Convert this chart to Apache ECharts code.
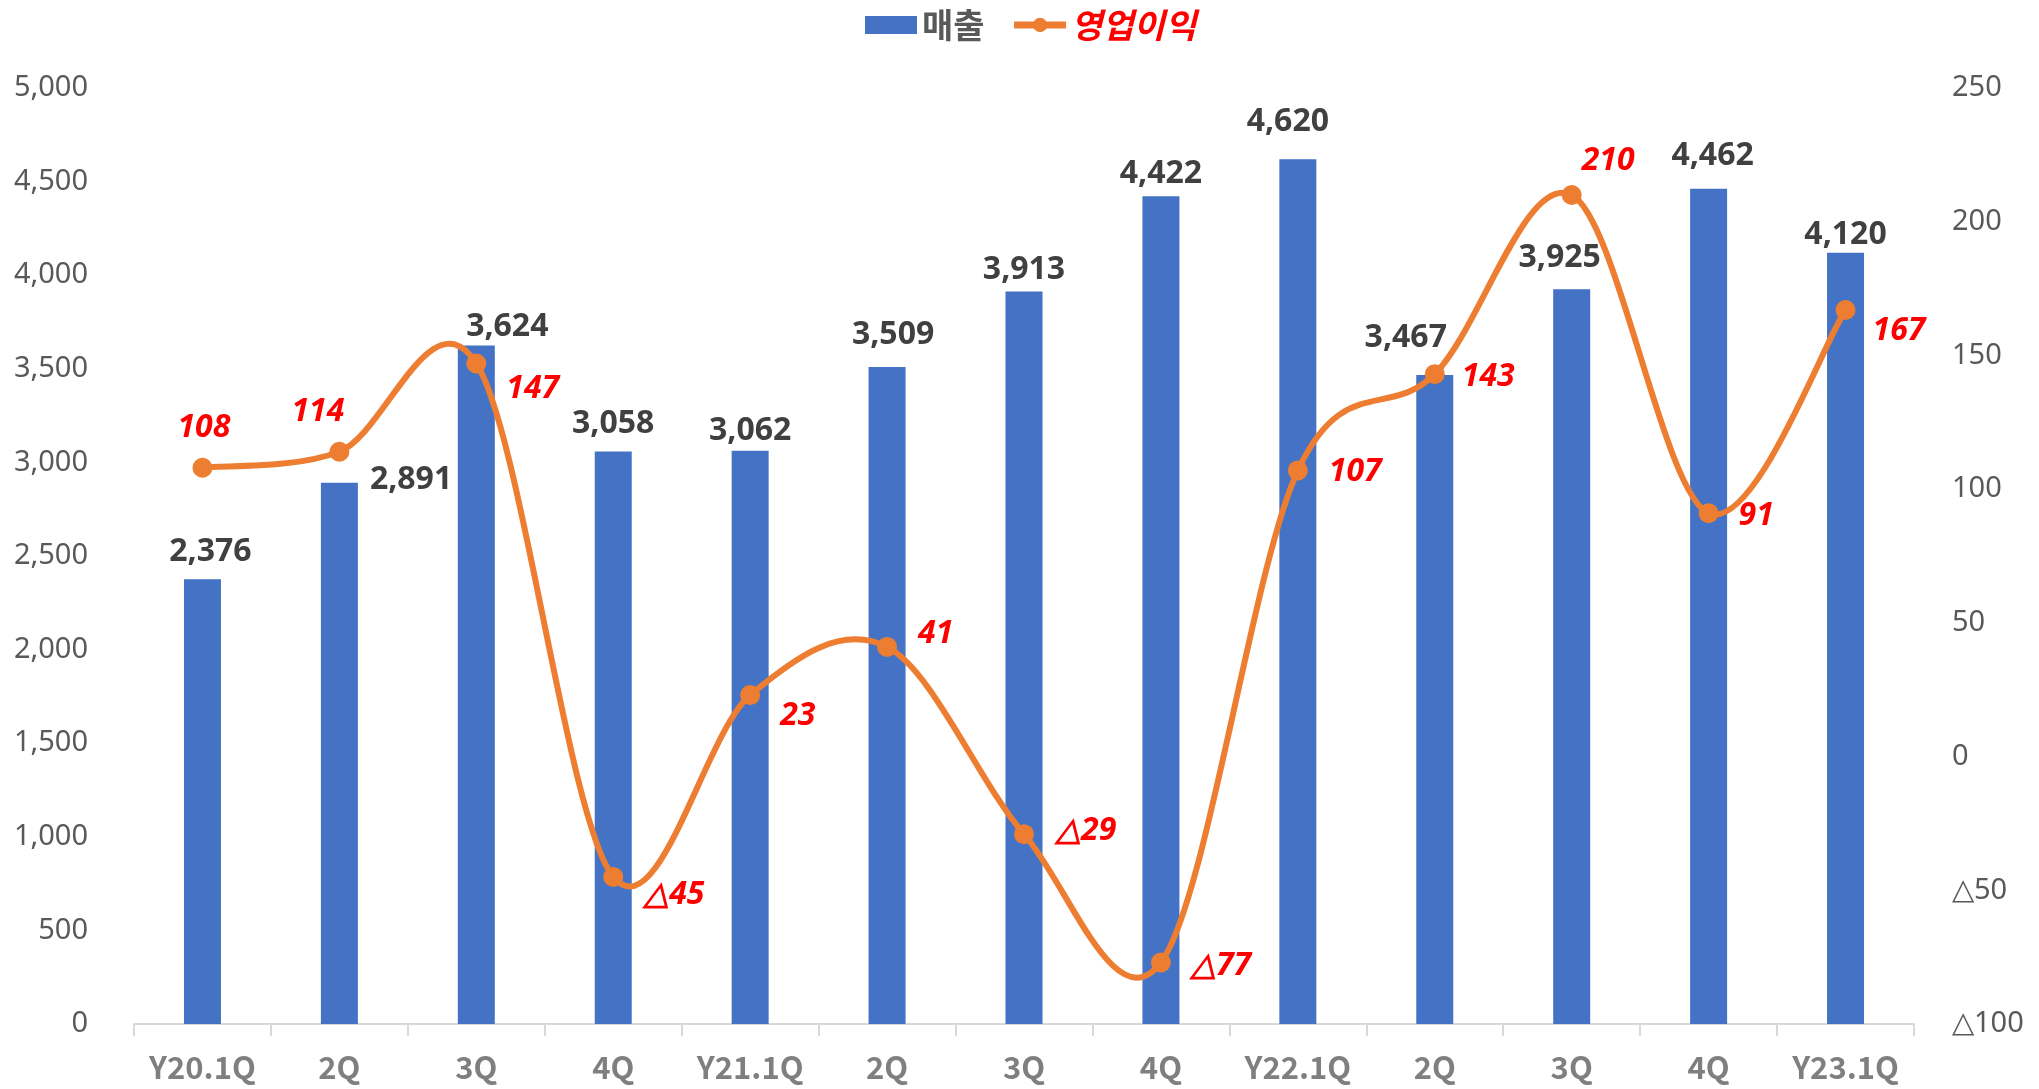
<!DOCTYPE html>
<html>
<head>
<meta charset="utf-8">
<script src="https://cdn.jsdelivr.net/npm/echarts@6/dist/echarts.min.js"></script>
<style>
html,body{margin:0;padding:0;background:#fff;}
#chart{width:2039px;height:1089px;}
</style>
</head>
<body>
<div id="chart"></div>
<script>
const categories = ['Y20.1Q','2Q','3Q','4Q','Y21.1Q','2Q','3Q','4Q','Y22.1Q','2Q','3Q','4Q','Y23.1Q'];
const sales = [2376, 2891, 3624, 3058, 3062, 3509, 3913, 4422, 4620, 3467, 3925, 4462, 4120];
const operatingProfit = [108, 114, 147, -45, 23, 41, -29, -77, 107, 143, 210, 91, 167];
const leftTicks = {min: 0, max: 5000, interval: 500};
const rightTicks = {min: -100, max: 250, interval: 50};

// label placement (pixels): [dx, center distance above bar top]
const barLabelShift = [[8,27],[0,0],[31,19],[0,28],[0,20],[6,32],[0,22],[0,22],[-10,37],[-29,37],[-12,31],[4,33],[0,18]];
const barLabelRight = [false,true,false,false,false,false,false,false,false,false,false,false,false];
// line labels: [left edge offset from point, vertical center offset]
const lineLabelShift = [[-25,-40],[-48,-40],[30,25],[31,18],[30,21],[31,-13],[32,-3],[30,3],[31,1],[27,3],[10,-34],[30,3],[27,21]];

const fmtNum = v => v.toLocaleString('en-US');
const fmtDelta = v => v < 0 ? '△' + Math.abs(v) : String(v);

const barData = sales.map((v, i) => {
  const s = barLabelShift[i];
  const lbl = barLabelRight[i]
    ? {position: ['100%', 0], align: 'left', verticalAlign: 'middle', offset: [12, -3], distance: 0}
    : {position: 'top', distance: 0, offset: [s[0], 16 - s[1]]};
  return {value: v, label: lbl};
});
const lineData = operatingProfit.map((v, i) => {
  const s = lineLabelShift[i];
  return {value: v, label: {position: 'right', distance: 0, offset: [s[0] - 10, s[1]]}};
});
const curveData = operatingProfit.map((v, i) => [i, v]);
const N = operatingProfit.length;

// Excel-style smoothed line: uniform Catmull-Rom segments, coordinates from the chart's own scales
function renderCurve(params, api) {
  const i = params.dataIndex;
  if (i >= N - 1) return null;
  const c = k => { const j = Math.max(0, Math.min(N - 1, k)); return api.coord([j, operatingProfit[j]]); };
  const p0 = c(i - 1), p1 = c(i), p2 = c(i + 1), p3 = c(i + 2);
  return {
    type: 'bezierCurve',
    silent: true,
    shape: {
      x1: p1[0], y1: p1[1],
      cpx1: p1[0] + (p2[0] - p0[0]) / 6, cpy1: p1[1] + (p2[1] - p0[1]) / 6,
      cpx2: p2[0] - (p3[0] - p1[0]) / 6, cpy2: p2[1] - (p3[1] - p1[1]) / 6,
      x2: p2[0], y2: p2[1]
    },
    style: {stroke: '#ED7D31', lineWidth: 6, fill: 'none', lineCap: 'round'}
  };
}

const chart = echarts.init(document.getElementById('chart'), null, {renderer: 'canvas'});
chart.setOption({
  animation: false,
  backgroundColor: '#ffffff',
  legend: {
    top: 3,
    left: 860,
    itemWidth: 52,
    itemHeight: 18,
    itemGap: 26,
    data: [
      {name: '매출', icon: 'rect', textStyle: {color: '#595959', fontWeight: 'bold', fontStyle: 'normal'}},
      {name: '영업이익', textStyle: {color: '#FF0000', fontWeight: 'bold', fontStyle: 'italic'},
       lineStyle: {color: '#ED7D31', width: 7, opacity: 1}, itemStyle: {color: '#ED7D31', opacity: 1}}
    ],
    textStyle: {fontFamily: 'Noto Sans CJK KR', fontSize: 34}
  },
  grid: {left: 134, right: 125, top: 88, bottom: 65, containLabel: false},
  xAxis: {
    type: 'category',
    data: categories,
    boundaryGap: true,
    axisLine: {show: true, lineStyle: {color: '#D9D9D9', width: 2}},
    axisTick: {show: true, length: 12, lineStyle: {color: '#D9D9D9', width: 2}},
    axisLabel: {color: '#7F7F7F', fontFamily: 'Noto Sans CJK KR', fontWeight: 'bold', fontSize: 31, margin: 28, interval: 0},
    splitLine: {show: false}
  },
  yAxis: [
    {
      type: 'value',
      min: leftTicks.min, max: leftTicks.max, interval: leftTicks.interval,
      axisLine: {show: false}, axisTick: {show: false}, splitLine: {show: false},
      axisLabel: {color: '#595959', fontFamily: 'Noto Sans', fontSize: 29, margin: 46, formatter: v => fmtNum(v)}
    },
    {
      type: 'value',
      min: rightTicks.min, max: rightTicks.max, interval: rightTicks.interval,
      axisLine: {show: false}, axisTick: {show: false}, splitLine: {show: false},
      axisLabel: {color: '#595959', fontFamily: 'Noto Sans', fontSize: 29, margin: 38, formatter: v => fmtDelta(v)}
    }
  ],
  series: [
    {
      name: '매출',
      type: 'bar',
      yAxisIndex: 0,
      barWidth: 37,
      itemStyle: {color: '#4472C4'},
      data: barData,
      label: {
        show: true,
        color: '#404040',
        fontFamily: 'Noto Sans',
        fontWeight: 'bold',
        fontSize: 32,
        lineHeight: 32,
        formatter: p => fmtNum(p.value)
      },
      z: 2
    },
    {
      name: 'curve',
      type: 'custom',
      xAxisIndex: 0,
      yAxisIndex: 1,
      data: curveData,
      encode: {x: 0, y: 1},
      renderItem: renderCurve,
      silent: true,
      z: 4
    },
    {
      name: '영업이익',
      type: 'line',
      yAxisIndex: 1,
      symbol: 'circle',
      symbolSize: 20,
      lineStyle: {color: '#ED7D31', width: 6, opacity: 0},
      itemStyle: {color: '#ED7D31'},
      data: lineData,
      label: {
        show: true,
        color: '#FF0000',
        fontFamily: 'Noto Sans',
        fontWeight: 'bold',
        fontStyle: 'italic',
        fontSize: 32,
        lineHeight: 32,
        formatter: p => fmtDelta(p.value)
      },
      z: 5
    }
  ]
});
</script>
</body>
</html>
